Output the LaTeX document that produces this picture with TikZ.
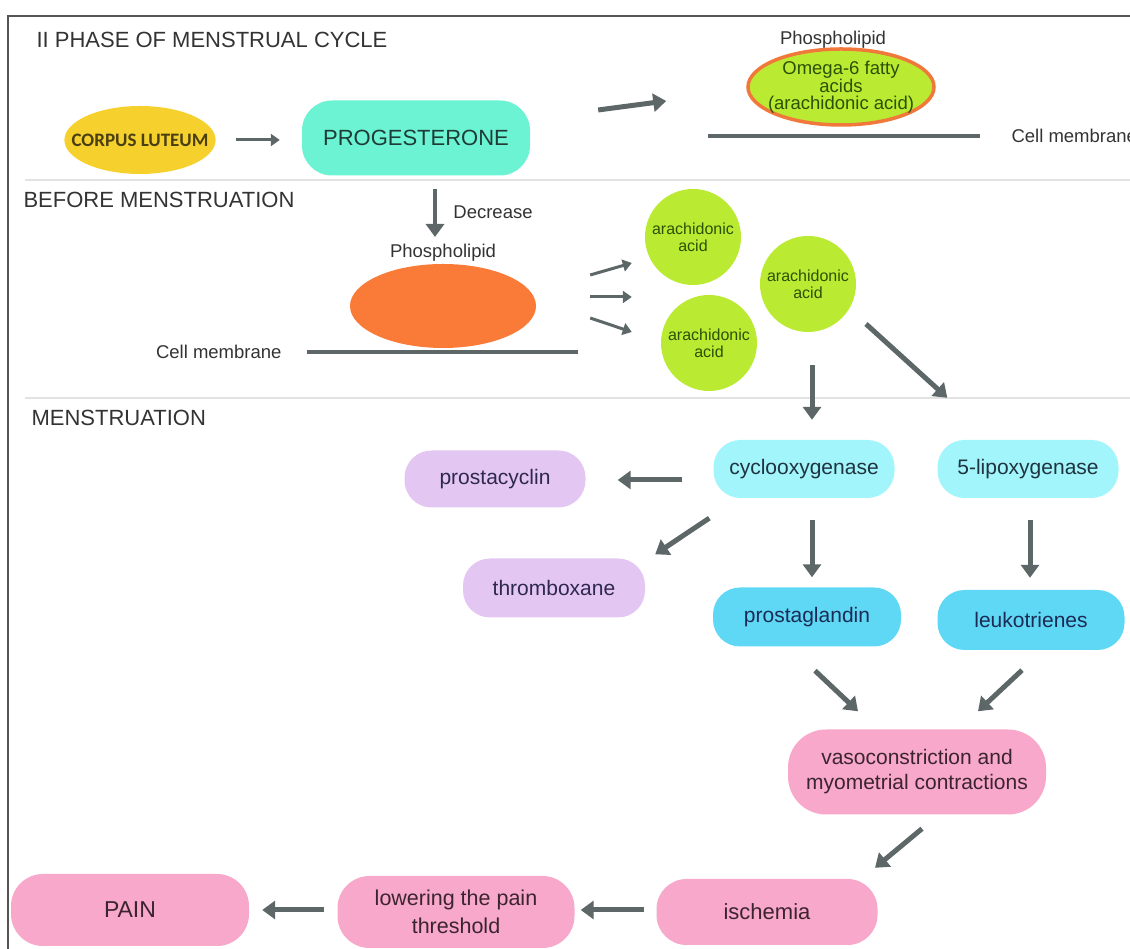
\documentclass[tikz,border=0pt]{standalone}
\usepackage{fontspec}
\setmainfont{Liberation Sans}
\newfontfamily\carlito{Carlito}
\usetikzlibrary{arrows.meta,shapes.geometric}
\definecolor{framegray}{HTML}{555555}
\definecolor{sepgray}{HTML}{E2E2E2}
\definecolor{arrowgray}{HTML}{5D6767}
\definecolor{txtgray}{HTML}{333333}
\definecolor{lutealyellow}{HTML}{F6D12E}
\definecolor{aquafill}{HTML}{6CF3D4}
\definecolor{limefill}{HTML}{BBEA33}
\definecolor{orangefill}{HTML}{F97B37}
\definecolor{omegaborder}{HTML}{F0783A}
\definecolor{cyanlight}{HTML}{A2F5FA}
\definecolor{cyandeep}{HTML}{5ED8F5}
\definecolor{lavender}{HTML}{E4C6F2}
\definecolor{pinkbox}{HTML}{F8A8CA}
\definecolor{txtgreen}{HTML}{2A5204}
\definecolor{txtteal}{HTML}{1E3B36}
\definecolor{txtblue}{HTML}{1F3340}
\definecolor{txtnavy}{HTML}{1C2B55}
\definecolor{txtpurple}{HTML}{2E2850}
\definecolor{txtmaroon}{HTML}{3B2430}
\definecolor{txtolive}{HTML}{4A3F10}
\begin{document}
\begin{tikzpicture}[x=1pt, y=1pt,
  every node/.style={font=\fontsize{21}{25}\selectfont, text=txtgray},
  box/.style={rounded corners=27pt, minimum width=181pt, minimum height=58pt, inner sep=0pt, align=center},
  enzyme/.style={box, fill=cyanlight, text=txtblue},
  product/.style={box, fill=cyandeep, text=txtnavy},
  side/.style={box, fill=lavender, text=txtpurple},
  effect/.style={box, fill=pinkbox, text=txtmaroon},
  acid/.style={circle, fill=limefill, minimum size=96pt, inner sep=0pt, align=center, text=txtgreen, font=\fontsize{16}{17}\selectfont},
  heading/.style={anchor=west, font=\fontsize{22}{26}\selectfont},
  small/.style={font=\fontsize{18.5}{20}\selectfont},
  bigarrow/.style={draw=arrowgray, line width=5pt, -{Triangle[length=13pt,width=18pt]}},
  thinarrow/.style={draw=arrowgray, line width=3pt, -{Triangle[length=9pt,width=12pt]}},
  membrane/.style={draw=arrowgray, line width=4pt},
  sepline/.style={draw=sepgray, line width=2pt}]
\useasboundingbox (0,0) rectangle (1130,949);
\clip (0,0) rectangle (1130,949);
\draw[framegray, line width=1.5pt] (8,0) -- (8,933) -- (1130,933);
\draw[sepline] (25,769) -- (1130,769);
\draw[sepline] (25,551) -- (1130,551);

\node[heading] (phase) at (33,909) {II PHASE OF MENSTRUAL CYCLE};
\node[heading] (before) at (20,749) {BEFORE MENSTRUATION};
\node[heading] (menstr) at (28,531) {MENSTRUATION};

\node[ellipse, fill=lutealyellow, minimum width=150pt, minimum height=68pt, inner xsep=-15pt, inner ysep=0pt,
  text=txtolive, font=\carlito\bfseries\fontsize{19}{21}\selectfont] (corpus) at (140,809) {CORPUS LUTEUM};
\node[box, rounded corners=30pt, minimum width=228pt, minimum height=75pt, fill=aquafill,
  text=txtteal, font=\fontsize{22}{26}\selectfont] (prog) at (416,811) {PROGESTERONE};
\node[small] (phosA) at (833,909) {Phospholipid};
\node[ellipse, draw=omegaborder, line width=3.5pt, fill=limefill, minimum width=186pt, minimum height=76pt,
  inner xsep=-11pt, inner ysep=0pt, align=center, text=txtgreen, font=\fontsize{18.5}{16.5}\selectfont] (omega) at (841,862)
  {Omega-6 fatty\\acids\\(arachidonic acid)};
\coordinate (memAl) at (708,813);
\coordinate (memAr) at (980,813);
\draw[membrane] (memAl) -- (memAr);
\node[small, anchor=west] (cellA) at (1008,813) {Cell membrane};

\node[small] (phosB) at (443,696) {Phospholipid};
\node[ellipse, fill=orangefill, minimum width=186pt, minimum height=84pt] (orng) at (443,643) {};
\coordinate (memBl) at (307,597);
\coordinate (memBr) at (578,597);
\draw[membrane] (memBl) -- (memBr);
\node[small, anchor=east] (cellB) at (285,597) {Cell membrane};
\node[small] (decr) at (493,737) {Decrease};

\node[acid] (acA) at (693,712) {arachidonic\\acid};
\node[acid] (acB) at (808,665) {arachidonic\\acid};
\node[acid] (acC) at (709,606) {arachidonic\\acid};

\node[enzyme] (cyclo) at (804,480) {cyclooxygenase};
\node[enzyme] (lipo) at (1028,480) {5-lipoxygenase};
\node[side, minimum height=57pt] (pcyc) at (495,470) {prostacyclin};
\node[side, minimum width=182pt, minimum height=59pt] (thromb) at (554,361) {thromboxane};
\node[product, minimum width=188pt, minimum height=59pt] (pglan) at (807,332) {prostaglandin};
\node[product, minimum width=187pt, minimum height=60pt] (leuko) at (1031,329) {leukotrienes};
\node[effect, rounded corners=38pt, minimum width=258pt, minimum height=85pt] (vaso) at (917,177)
  {vasoconstriction and\\myometrial contractions};
\node[effect, rounded corners=30pt, minimum width=221pt, minimum height=66pt, font=\fontsize{22}{26}\selectfont] (isch) at (767,37) {ischemia};
\node[effect, rounded corners=32pt, minimum width=237pt, minimum height=72pt, font=\fontsize{21.5}{28}\selectfont] (lower) at (456,37) {lowering the pain\\threshold};
\node[effect, rounded corners=32pt, minimum width=238pt, minimum height=72pt, font=\fontsize{23}{26}\selectfont] (pain) at (130,39) {PAIN};

\draw[thinarrow, shorten <=20pt, shorten >=22pt] (corpus.east) -- (corpus.east -| prog.west);
\draw[bigarrow] ([xshift=68pt,yshift=28pt]prog.east) -- ([xshift=-80pt,yshift=-14pt]omega.west);
\draw[bigarrow, line width=4pt] ([xshift=19pt,yshift=-13pt]prog.south) -- ([xshift=-8pt,yshift=16pt]phosB.center);
\draw[thinarrow] ([xshift=54pt,yshift=31pt]orng.east) -- ([xshift=-13pt,yshift=-26pt]acA.west);
\draw[thinarrow] ([xshift=54pt,yshift=9pt]orng.east) -- ([xshift=-29pt,yshift=46pt]acC.west);
\draw[thinarrow] ([xshift=54pt,yshift=-12pt]orng.east) -- ([xshift=-29pt,yshift=11pt]acC.west);
\draw[bigarrow] ([xshift=4pt,yshift=-33pt]acB.south) -- ([xshift=8pt,yshift=20pt]cyclo.north);
\draw[bigarrow] ([xshift=58pt,yshift=-40pt]acB.center) -- ([xshift=10pt,yshift=42pt]lipo.north west);
\draw[bigarrow] ([xshift=-31pt,yshift=-11pt]cyclo.west) -- ([xshift=32pt,yshift=-1pt]pcyc.east);
\draw[bigarrow] ([xshift=-4pt,yshift=-20pt]cyclo.south west) -- ([xshift=10pt,yshift=4pt]thromb.north east);
\draw[bigarrow] ([xshift=8pt,yshift=-22pt]cyclo.south) -- ([xshift=5pt,yshift=10pt]pglan.north);
\draw[bigarrow] ([xshift=2pt,yshift=-22pt]lipo.south) -- ([xshift=-1pt,yshift=12pt]leuko.north);
\draw[bigarrow] ([xshift=8pt,yshift=-24pt]pglan.south) -- ([xshift=-59pt,yshift=18pt]vaso.north);
\draw[bigarrow] ([xshift=-9pt,yshift=-20pt]leuko.south) -- ([xshift=61pt,yshift=18pt]vaso.north);
\draw[bigarrow] ([xshift=5pt,yshift=-14pt]vaso.south) -- ([xshift=108pt,yshift=11pt]isch.north);
\draw[bigarrow] ([xshift=-12pt,yshift=2pt]isch.west) -- ([xshift=6pt,yshift=2pt]lower.east);
\draw[bigarrow] ([xshift=-13pt,yshift=2pt]lower.west) -- ([xshift=13pt]pain.east);
\end{tikzpicture}
\end{document}
